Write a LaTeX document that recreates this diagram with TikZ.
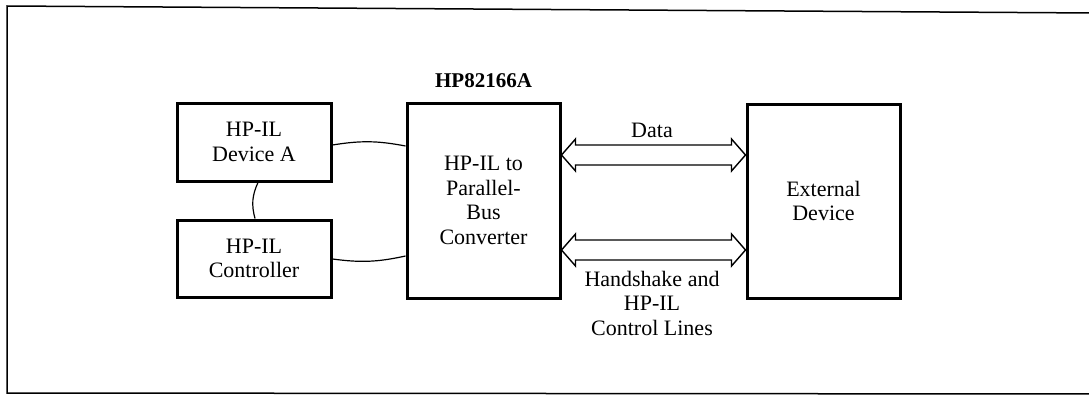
\documentclass[tikz,border=0pt]{standalone}
\usepackage{fontspec}
\setmainfont{Liberation Serif}
\usetikzlibrary{calc, positioning}

\tikzset{
  unit/.style={draw, line width=3pt, align=center, inner sep=0pt},
  bus/.style={line width=1.4pt, line join=miter},
  loopwire/.style={line width=1.2pt},
  buslabel/.style={align=center, inner sep=0pt}
}

\newcommand{\busarrow}[3]{%
  \coordinate (bl) at (#1.east|-#3);
  \coordinate (br) at (#2.west|-#3);
  \draw[bus] (bl) -- ++(14,-16) -- ++(0,6) -- ($(br)+(-14,-10)$) -- ++(0,-6) -- (br)
    -- ++(-14,16) -- ++(0,-6) -- ($(bl)+(14,10)$) -- ++(0,6) -- cycle;}

\begin{document}
\begin{tikzpicture}[x=1pt, y=-1pt, every node/.style={font=\fontsize{22}{24.5}\selectfont}]
  \useasboundingbox (0,0) rectangle (1089,396);
  \draw[line width=1.5pt] (1095,13) -- (7,6) -- (7,393) -- (1095,394);

  \node[unit, minimum width=154pt, minimum height=78pt] (deva) at (254,142) {HP-IL\\Device A};
  \node[unit, minimum width=154pt, minimum height=77pt] (ctrl) at (254,258.5) {HP-IL\\Controller};
  \node[unit, minimum width=153pt, minimum height=195pt] (conv) at (483.5,200.5) {HP-IL to\\Parallel-\\Bus\\Converter};
  \node[unit, minimum width=153pt, minimum height=194pt] (ext) at (823.5,201) {External\\Device};
  \node[inner sep=0pt, above=14pt of conv, font=\bfseries\fontsize{21}{24}\selectfont] (model) {HP82166A};

  \draw[loopwire] ([yshift=-3pt]deva.east) to[bend left=10] ([yshift=54.5pt]conv.west);
  \draw[loopwire] ([yshift=-0.5pt]ctrl.east) to[bend right=10] ([yshift=-55.5pt]conv.west);
  \draw[loopwire] ([xshift=4pt]deva.south) to[bend right=20] ([xshift=1pt]ctrl.north);

  \coordinate (datay) at (653,155);
  \coordinate (ctly) at (653,250);
  \busarrow{conv}{ext}{datay}
  \busarrow{conv}{ext}{ctly}

  \node[buslabel, anchor=base] (datalbl) at (652,137) {Data};
  \node[buslabel, anchor=north] (ctllbl) at (652,271) {Handshake and\\HP-IL\\Control Lines};
\end{tikzpicture}
\end{document}
